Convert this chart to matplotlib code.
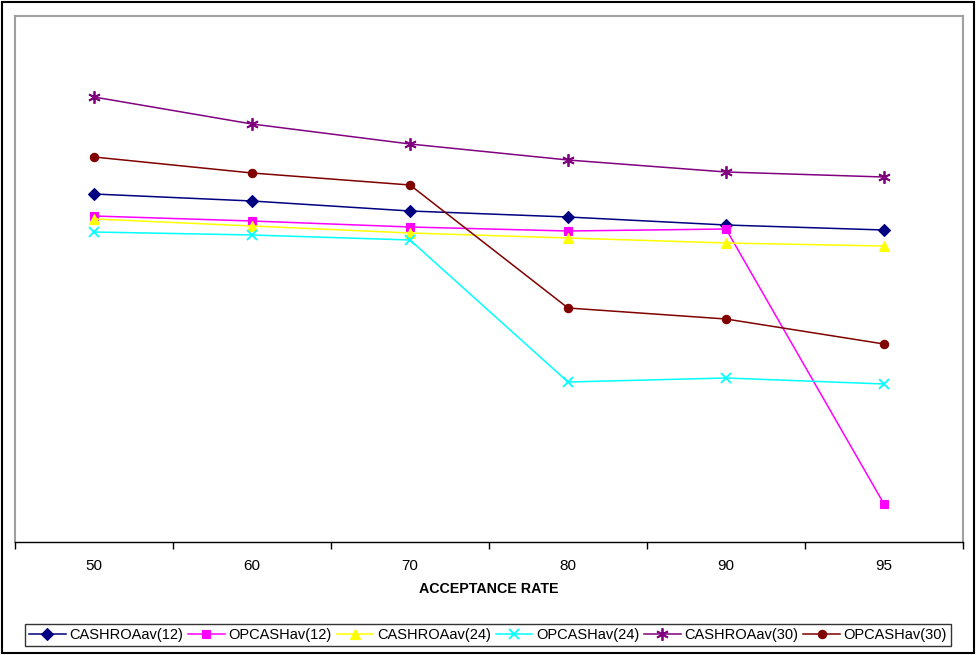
import matplotlib.pyplot as plt
from matplotlib.patches import Rectangle
import numpy as np

plt.rcParams['font.family'] = ['Liberation Sans', 'DejaVu Sans']

# acceptance rate categories (evenly spaced on the axis)
rates = ['50', '60', '70', '80', '90', '95']

cashroa_12 = [6.96, 6.82, 6.62, 6.50, 6.34, 6.24]
opcash_12 = [6.52, 6.42, 6.30, 6.22, 6.26, 0.76]
cashroa_24 = [6.46, 6.32, 6.18, 6.08, 5.98, 5.92]
opcash_24 = [6.20, 6.14, 6.04, 3.20, 3.28, 3.16]
cashroa_30 = [8.90, 8.36, 7.96, 7.64, 7.40, 7.30]
opcash_30 = [7.70, 7.38, 7.14, 4.68, 4.46, 3.96]

series = [
    ('CASHROAav(12)', cashroa_12, '#000080', 'D', 6),
    ('OPCASHav(12)', opcash_12, '#ff00ff', 's', 6),
    ('CASHROAav(24)', cashroa_24, '#ffff00', '^', 7),
    ('OPCASHav(24)', opcash_24, '#00ffff', 'x', 7),
    ('CASHROAav(30)', cashroa_30, '#800080', (6, 2, 0), 9),
    ('OPCASHav(30)', opcash_30, '#800000', 'o', 6),
]

fig = plt.figure(figsize=(9.77, 6.55), dpi=100)
ax = fig.add_axes([15 / 977, 113 / 655, 948 / 977, 526 / 655])

x = np.arange(len(rates))
for name, vals, col, mk, ms in series:
    ax.plot(x, vals, color=col, marker=mk, markersize=ms, linewidth=1.1,
            markeredgewidth=1.3 if mk in ('x', (6, 2, 0)) else 0.8,
            markeredgecolor=col, markerfacecolor=col, label=name)

ax.set_xlim(-0.5, len(rates) - 0.5)
ax.set_ylim(0, 10.52)
ax.set_yticks([])

# ticks sit between categories, labels at category centres
ax.set_xticks(np.arange(-0.5, len(rates)), labels=[''] * (len(rates) + 1))
ax.set_xticks(x, labels=rates, minor=True)
ax.tick_params(axis='x', which='major', direction='out', length=5, width=1, color='black')
ax.tick_params(axis='x', which='minor', length=0, pad=12, labelsize=11)

for side in ('left', 'top', 'right'):
    ax.spines[side].set_color('#a0a0a0')
    ax.spines[side].set_linewidth(1.5)
ax.spines['bottom'].set_color('black')
ax.spines['bottom'].set_linewidth(1)

fig.text(489 / 977, 1 - 589 / 655, 'ACCEPTANCE RATE', ha='center', va='center',
         fontsize=10.3, fontweight='bold')

leg = fig.legend(loc='center', bbox_to_anchor=(488 / 977, 1 - 635 / 655), ncol=6,
                 frameon=True, fancybox=False, edgecolor='black', fontsize=10.5,
                 handlelength=2.5, columnspacing=0.35, handletextpad=0.25,
                 borderpad=0.3, borderaxespad=0)
leg.get_frame().set_linewidth(1)

# outer chart border
fig.patches.append(Rectangle((2 / 977, 2 / 655), 972 / 977, 651 / 655,
                             transform=fig.transFigure, fill=False,
                             edgecolor='black', linewidth=1.5))

fig.savefig('out.png', dpi=100)
